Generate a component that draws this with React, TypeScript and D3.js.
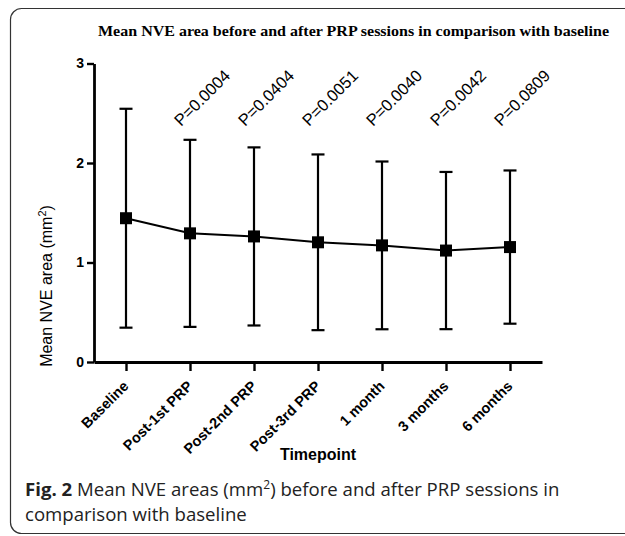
import { useEffect, useRef } from "react";
import * as d3 from "d3";

// values (mean +/- SD, mm^2)
const categories = ["Baseline", "Post-1st PRP", "Post-2nd PRP", "Post-3rd PRP", "1 month", "3 months", "6 months"];
const means = [1.445, 1.293, 1.262, 1.203, 1.172, 1.12, 1.155];
const sds = [1.1, 0.94, 0.895, 0.883, 0.843, 0.79, 0.77];
const pValues = ["", "P=0.0004", "P=0.0404", "P=0.0051", "P=0.0040", "P=0.0042", "P=0.0809"];
const yTicks = [0, 1, 2, 3];

const W = 625;
const H = 536;
const AXIS_FONT = "Arial, 'Liberation Sans', sans-serif";

const App = () => {
  const xRef = useRef<SVGGElement>(null);
  const yRef = useRef<SVGGElement>(null);

  const x = d3.scalePoint<string>().domain(categories).range([94, 542]).padding(0.5);
  const y = d3.scaleLinear().domain([0, 3]).range([362, 63.5]);

  const rows = categories.map((c, i) => ({ c, m: means[i], sd: sds[i], p: pValues[i] }));

  const line = d3
    .line<{ c: string; m: number }>()
    .x((d) => x(d.c)!)
    .y((d) => y(d.m));

  useEffect(() => {
    const gy = d3.select(yRef.current!);
    gy.selectAll("*").remove();
    gy.call(d3.axisLeft(y).tickValues(yTicks).tickSize(7).tickSizeOuter(0).tickPadding(3).tickFormat(d3.format("d")));
    gy.select(".domain").style("stroke-width", "2.8px");
    gy.selectAll(".tick line").style("stroke-width", "2.4px");
    gy.selectAll(".tick text")
      .attr("font-family", AXIS_FONT)
      .attr("font-weight", "bold")
      .attr("font-size", 14)
      .attr("fill", "#000");

    const gx = d3.select(xRef.current!);
    gx.selectAll("*").remove();
    gx.call(d3.axisBottom(x).tickSize(9).tickSizeOuter(0));
    gx.select(".domain").style("stroke-width", "2.8px");
    gx.selectAll(".tick line").style("stroke-width", "2.4px");
    gx.selectAll(".tick text")
      .attr("y", 0)
      .attr("dy", 0)
      .attr("transform", "translate(3,25) rotate(-45)")
      .attr("text-anchor", "end")
      .attr("font-family", AXIS_FONT)
      .attr("font-weight", "bold")
      .attr("font-size", 14.5)
      .attr("fill", "#000");
  }, []);

  return (
    <svg width={W} height={H} style={{ position: "absolute", left: 0, top: 0, background: "#fff" }}>
      <rect x={10.5} y={8.5} width={700} height={525} rx={11} fill="none" stroke="#333" strokeWidth={1.2} />

      <text
        x={98}
        y={36}
        fontFamily="'Times New Roman', 'Liberation Serif', serif"
        fontWeight="bold"
        fontSize={14.5}
        textLength={511}
        lengthAdjust="spacingAndGlyphs"
      >
        Mean NVE area before and after PRP sessions in comparison with baseline
      </text>

      {rows.map((d) => (
        <g key={d.c} stroke="#000" strokeWidth={2.2}>
          <line x1={x(d.c)} x2={x(d.c)} y1={y(d.m - d.sd)} y2={y(d.m + d.sd)} />
          <line x1={x(d.c)! - 6.5} x2={x(d.c)! + 6.5} y1={y(d.m + d.sd)} y2={y(d.m + d.sd)} />
          <line x1={x(d.c)! - 6.5} x2={x(d.c)! + 6.5} y1={y(d.m - d.sd)} y2={y(d.m - d.sd)} />
        </g>
      ))}

      <path d={line(rows) || ""} fill="none" stroke="#000" strokeWidth={2} />

      {rows.map((d) => (
        <rect key={d.c} x={x(d.c)! - 6} y={y(d.m) - 6} width={12} height={12} fill="#000" />
      ))}

      {rows
        .filter((d) => d.p)
        .map((d) => (
          <text
            key={d.c}
            transform={`translate(${x(d.c)! - 9},127) rotate(-45)`}
            fontFamily={AXIS_FONT}
            fontSize={16.5}
            fill="#000"
          >
            {d.p}
          </text>
        ))}

      <g ref={yRef} transform="translate(94,0)" />
      <g ref={xRef} transform="translate(0,362)" />

      <text
        transform="translate(52,286) rotate(-90)"
        textAnchor="middle"
        fontFamily={AXIS_FONT}
        fontSize={16}
        fill="#000"
      >
        Mean NVE area (mm<tspan dy={-6} fontSize={11}>2</tspan>
        <tspan dy={6}>)</tspan>
      </text>

      <text x={318} y={460} textAnchor="middle" fontFamily={AXIS_FONT} fontWeight="bold" fontSize={16} fill="#000">
        Timepoint
      </text>

      <text x={25} y={496} fontFamily="'Open Sans', 'Noto Sans', sans-serif" fontSize={18.6} fill="#222">
        <tspan fontWeight="bold">Fig. 2</tspan> Mean NVE areas (mm<tspan dy={-7} fontSize={12}>2</tspan>
        <tspan dy={7}>) before and after PRP sessions in</tspan>
      </text>
      <text x={25} y={521} fontFamily="'Open Sans', 'Noto Sans', sans-serif" fontSize={18.6} fill="#222">
        comparison with baseline
      </text>
    </svg>
  );
};

export default App;
